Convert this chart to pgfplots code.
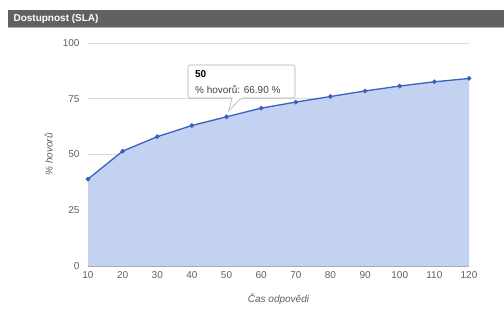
\documentclass[border=0pt]{standalone}
\usepackage{pgfplots}
\pgfplotsset{compat=1.18}
\usepackage{fontspec}
\setmainfont{Liberation Sans}
\definecolor{areafill}{HTML}{C3D2F1}
\definecolor{lineblue}{HTML}{3A60C0}
\definecolor{bar}{HTML}{616161}
\definecolor{ticktxt}{HTML}{606060}
\definecolor{gridc}{HTML}{D9D9D9}
\begin{document}
\begin{tikzpicture}[x=1pt,y=1pt]
\path[use as bounding box, fill=white] (0,0) rectangle (504,311);
\fill[bar] (8,284) rectangle (504,301);
\draw[gray!60, line width=0.8pt] (8,283.6) -- (504,283.6);
\node[anchor=west, text=white, font=\fontsize{10}{11}\selectfont\bfseries] at (10,292.5) {Dostupnost (SLA)};
\begin{axis}[
  at={(88pt,45pt)}, anchor=south west,
  scale only axis, width=381pt, height=223pt,
  xmin=10, xmax=120, ymin=0, ymax=100,
  xtick={10,20,...,120}, ytick={0,25,50,75,100},
  axis x line*=bottom, axis y line*=left,
  x axis line style={gray!70, -},
  y axis line style={draw=none},
  ymajorgrids, grid style={gridc, line width=0.6pt},
  major tick length=0pt,
  tick label style={font=\fontsize{10}{11}\selectfont, text=ticktxt},
  /pgf/number format/assume math mode=true,
  yticklabel style={anchor=east, xshift=-5pt},
  xticklabel style={yshift=-2pt},
  ylabel={\itshape \% hovorů},
  ylabel style={font=\fontsize{10}{11}\selectfont, text=ticktxt, at={(axis description cs:-0.083,0.5)}},
  xlabel={\itshape Čas odpovědi},
  xlabel style={font=\fontsize{10}{11}\selectfont, text=ticktxt, at={(axis description cs:0.5,-0.11)}},
  clip=false,
]
\addplot[fill=areafill, draw=none] coordinates {
(10,39.0) (20,51.5) (30,58.0) (40,63.0) (50,66.9) (60,70.8) (70,73.5) (80,76.0) (90,78.5) (100,80.7) (110,82.6) (120,84.1)
} \closedcycle;
\addplot[lineblue, line width=1.3pt, mark=*, mark size=1.6pt, mark options={fill=lineblue}] coordinates {
(10,39.0) (20,51.5) (30,58.0) (40,63.0) (50,66.9) (60,70.8) (70,73.5) (80,76.0) (90,78.5) (100,80.7) (110,82.6) (120,84.1)
};
\draw[gray!60, fill=white, rounded corners=2pt, line width=0.6pt]
 (axis cs:38.87,90.13) -- (axis cs:69.77,90.13) -- (axis cs:69.77,75.34) -- (axis cs:54.2,75.34)
 [sharp corners] -- (axis cs:50.6,69.5) -- (axis cs:51.6,75.34) [rounded corners=2pt] -- (axis cs:38.87,75.34) -- cycle;
\node[anchor=west, font=\fontsize{10}{11}\selectfont\bfseries] at (axis cs:39.9,86.2) {50};
\node[anchor=west, font=\fontsize{10}{11}\selectfont, text=ticktxt!70!black] at (axis cs:39.9,79.3) {\% hovorů: 66.90 \%};
\end{axis}
\end{tikzpicture}
\end{document}
